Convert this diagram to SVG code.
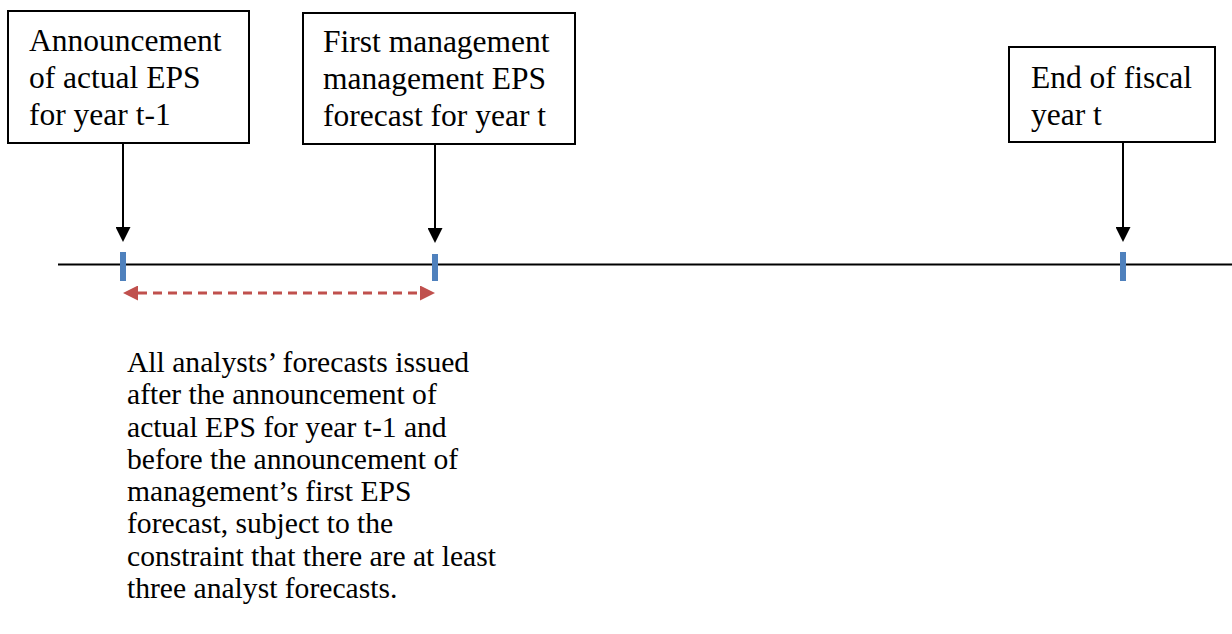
<svg xmlns="http://www.w3.org/2000/svg" width="1232" height="634" viewBox="0 0 1232 634">
  <style>
    .box { fill: #ffffff; stroke: #000000; stroke-width: 2; }
    .lbl { font-family: "Liberation Serif", "Times New Roman", serif; font-size: 31.5px; fill: #000000; }
    .body { font-family: "Liberation Serif", "Times New Roman", serif; font-size: 29.6px; fill: #000000; }
    .arrow { stroke: #000000; stroke-width: 2; fill: none; marker-end: url(#ah); }
    .tick { fill: #4F81BD; }
    .span { stroke: #C0504D; stroke-width: 3; stroke-dasharray: 9 6; fill: none; marker-start: url(#rh); marker-end: url(#rh); }
  </style>
  <defs>
    <marker id="ah" markerUnits="userSpaceOnUse" markerWidth="15" markerHeight="15" refX="0" refY="7.5" orient="auto" viewBox="0 0 15 15">
      <path d="M0,0 L15,7.5 L0,15 z" fill="#000000"/>
    </marker>
    <marker id="rh" markerUnits="userSpaceOnUse" markerWidth="15" markerHeight="15" refX="0" refY="7.5" orient="auto-start-reverse" viewBox="0 0 15 15">
      <path d="M0,0 L15,7.5 L0,15 z" fill="#C0504D"/>
    </marker>
  </defs>
  <rect width="1232" height="634" fill="#ffffff"/>

  <g id="node-announcement">
    <rect class="box" x="8" y="11" width="241" height="132"/>
    <text class="lbl" x="29" y="51">Announcement</text>
    <text class="lbl" x="29" y="88">of actual EPS</text>
    <text class="lbl" x="29" y="125">for year t-1</text>
  </g>

  <g id="node-first-forecast">
    <rect class="box" x="303" y="13" width="272" height="131"/>
    <text class="lbl" x="323" y="52">First management</text>
    <text class="lbl" x="323" y="89">management EPS</text>
    <text class="lbl" x="323" y="126">forecast for year t</text>
  </g>

  <g id="node-end-fiscal">
    <rect class="box" x="1009" y="47" width="206" height="95"/>
    <text class="lbl" x="1031" y="88">End of fiscal</text>
    <text class="lbl" x="1031" y="125">year t</text>
  </g>

  <g id="timeline">
    <line x1="58" y1="264.5" x2="1232" y2="264.5" stroke="#000000" stroke-width="2"/>
    <rect class="tick" x="120" y="252" width="6" height="29"/>
    <rect class="tick" x="432" y="254" width="6" height="27"/>
    <rect class="tick" x="1120" y="252" width="6" height="29"/>
  </g>

  <g id="connectors">
    <line class="arrow" x1="123" y1="143" x2="123" y2="227"/>
    <line class="arrow" x1="435" y1="144" x2="435" y2="228"/>
    <line class="arrow" x1="1123" y1="142" x2="1123" y2="227"/>
    <line class="span" x1="138" y1="293" x2="420" y2="293"/>
  </g>

  <g id="node-description">
    <text class="body" x="127" y="372">All analysts’ forecasts issued</text>
    <text class="body" x="127" y="404">after the announcement of</text>
    <text class="body" x="127" y="437">actual EPS for year t-1 and</text>
    <text class="body" x="127" y="469">before the announcement of</text>
    <text class="body" x="127" y="501">management’s first EPS</text>
    <text class="body" x="127" y="533">forecast, subject to the</text>
    <text class="body" x="127" y="566">constraint that there are at least</text>
    <text class="body" x="127" y="598">three analyst forecasts.</text>
  </g>
</svg>
